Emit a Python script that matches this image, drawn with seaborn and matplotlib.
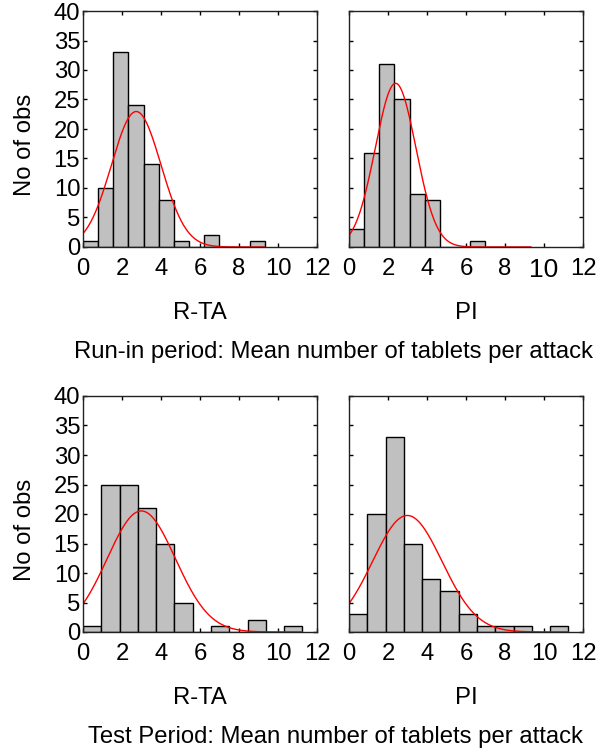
import numpy as np
import pandas as pd
import matplotlib
matplotlib.use("Agg")
import matplotlib.pyplot as plt
import seaborn as sns

# ---- data ----
panel_names = ["R-TA", "PI", "R-TA", "PI"]
period_titles = ["Run-in period: Mean number of tablets per attack",
                 "Test Period: Mean number of tablets per attack"]

runin_edges_max = 9.333     # 12 bins from 0
test_edges_max = 11.25      # 12 bins from 0
n_bins = 12

runin_rta_counts = [1, 10, 33, 24, 14, 8, 1, 0, 2, 0, 0, 1]
runin_pi_counts = [3, 16, 31, 25, 9, 8, 0, 0, 1, 0, 0, 0]
test_rta_counts = [1, 25, 25, 21, 15, 5, 0, 1, 0, 2, 0, 1]
test_pi_counts = [3, 20, 33, 15, 9, 7, 3, 1, 1, 1, 0, 1]

# fitted normal curves (mean, sd)
runin_rta_fit = (2.73, 1.27)
runin_pi_fit = (2.39, 1.04)
test_rta_fit = (2.99, 1.75)
test_pi_fit = (2.99, 1.78)

x_ticks = [0, 2, 4, 6, 8, 10, 12]
y_ticks = [0, 5, 10, 15, 20, 25, 30, 35, 40]

# ---- style ----
sns.set_style("ticks")
plt.rcParams['font.family'] = ['Liberation Sans', 'DejaVu Sans']
plt.rcParams['text.color'] = 'black'
plt.rcParams['xtick.color'] = 'black'
plt.rcParams['ytick.color'] = 'black'
plt.rcParams['xtick.labelcolor'] = 'black'
plt.rcParams['ytick.labelcolor'] = 'black'
FS = 17.2

fig = plt.figure(figsize=(6.07, 7.53), dpi=100)
W, H = 607, 753

def add_ax(x0, y0, x1, y1):
    return fig.add_axes([x0 / W, 1 - y1 / H, (x1 - x0) / W, (y1 - y0) / H])

panels = [
    (add_ax(83, 11, 317, 247), runin_rta_counts, runin_edges_max, runin_rta_fit, True),
    (add_ax(349, 11, 583, 247), runin_pi_counts, runin_edges_max, runin_pi_fit, False),
    (add_ax(83, 396, 317, 632), test_rta_counts, test_edges_max, test_rta_fit, True),
    (add_ax(349, 396, 583, 632), test_pi_counts, test_edges_max, test_pi_fit, False),
]

for k, (ax, counts, emax, (mu, sd), show_y) in enumerate(panels):
    bw = emax / n_bins
    centers = [bw * (i + 0.5) for i in range(n_bins)]
    df = pd.DataFrame({"x": centers, "w": [float(c) for c in counts]})
    sns.histplot(data=df, x="x", weights="w", binwidth=bw, binrange=(0, emax), ax=ax,
                 color="#c0c0c0", edgecolor="black", linewidth=1.0, alpha=1.0)
    n = sum(counts)
    xs = np.linspace(0, emax, 300)
    ys = n * bw * np.exp(-0.5 * ((xs - mu) / sd) ** 2) / (sd * np.sqrt(2 * np.pi))
    sns.lineplot(x=xs, y=ys, ax=ax, color="red", linewidth=1.0)
    ax.set_xlim(0, 12)
    ax.set_ylim(0, 40)
    ax.set_xticks(x_ticks)
    ax.set_yticks(y_ticks)
    ax.tick_params(direction="in", length=3, width=1, top=True, right=True,
                   labelsize=FS, pad=2, colors="black")
    ax.tick_params(axis="x", pad=8)
    if not show_y:
        ax.set_yticklabels([])
    ax.set_xlabel("")
    ax.set_ylabel("")
    for s in ax.spines.values():
        s.set_visible(True)
        s.set_linewidth(1.0)
        s.set_color("#222222")
    if k == 1:
        # the "10" label in this panel is drawn larger in the reference
        lbl = ax.get_xticklabels()[5]
        lbl.set_fontsize(19)

# y labels
for yc in (145, 530):
    fig.text(25 / W, 1 - yc / H, "No of obs", rotation=90, ha="center",
             va="center", fontsize=FS, color="black")

# panel names
for (xc, yc), name in zip([(200, 313), (466, 313), (200, 698), (466, 698)], panel_names):
    fig.text(xc / W, 1 - yc / H, name, ha="center", va="center", fontsize=FS, color="black")

# period titles
fig.text(334 / W, 1 - 352 / H, period_titles[0], ha="center", va="center", fontsize=FS, color="black")
fig.text(335 / W, 1 - 737 / H, period_titles[1], ha="center", va="center", fontsize=FS, color="black")

fig.savefig("out.png", dpi=100)
